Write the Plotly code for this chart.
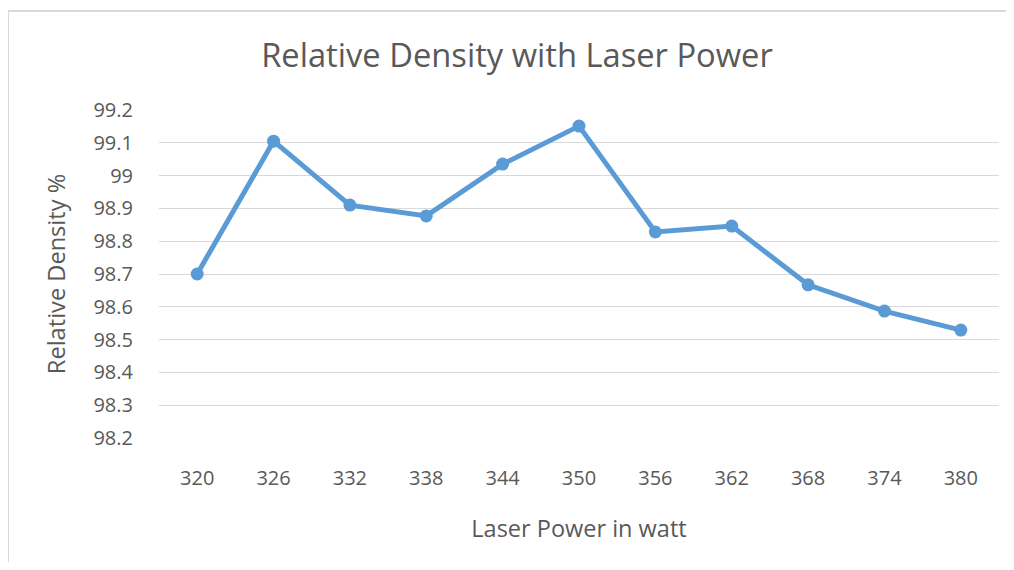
import plotly.graph_objects as go

laser_power = ["320", "326", "332", "338", "344", "350", "356", "362", "368", "374", "380"]
relative_density = [98.70, 99.105, 98.91, 98.877, 99.035, 99.151, 98.828, 98.846, 98.667, 98.587, 98.529]
y_ticks = [98.2, 98.3, 98.4, 98.5, 98.6, 98.7, 98.8, 98.9, 99.0, 99.1, 99.2]
y_tick_text = ["98.2", "98.3", "98.4", "98.5", "98.6", "98.7", "98.8", "98.9", "99", "99.1", "99.2"]

FONT = "Open Sans"
TXT = "#595959"

# page has an 8px body margin; figure is sized/offset to compensate
W, H = 998, 554
L, T, R, B = 151, 102, 7, 124
PW, PH = W - L - R, H - T - B

fig = go.Figure()
fig.add_trace(go.Scatter(
    x=laser_power, y=relative_density, mode="lines+markers",
    line=dict(color="#5B9BD5", width=5),
    marker=dict(color="#5B9BD5", size=13),
    showlegend=False,
))

fig.update_layout(
    width=W, height=H,
    margin=dict(l=L, r=R, t=T, b=B, autoexpand=False),
    paper_bgcolor="white", plot_bgcolor="white",
    font=dict(family=FONT, color=TXT),
    title=dict(text="Relative Density with Laser Power", x=509 / W, xanchor="center",
               y=1 - 48 / H, yanchor="middle",
               font=dict(family=FONT, size=32.7, color=TXT)),
    xaxis=dict(type="category", range=[-0.5, len(laser_power) - 0.5],
               showgrid=False, showline=False, zeroline=False,
               ticks="", tickfont=dict(size=20, color=TXT), automargin=False,
               ticklabelstandoff=26,
               title=dict(text="Laser Power in watt", font=dict(size=23.5, color=TXT), standoff=30)),
    yaxis=dict(range=[98.2, 99.2], tickvals=y_ticks, ticktext=y_tick_text,
               showgrid=True, gridcolor="#D9D9D9", gridwidth=1.3, zeroline=False,
               showline=False, ticks="", ticklabelstandoff=25, automargin=False,
               tickfont=dict(size=20, color=TXT),
               title=dict(text="Relative Density %", font=dict(size=23.6, color=TXT), standoff=21)),
    shapes=[
        dict(type="line", xref="paper", yref="paper",
             x0=(0 - L) / PW, x1=(0 - L) / PW, y0=-1.0, y1=(T + PH - 3) / PH,
             line=dict(color="#D9D9D9", width=2)),
        dict(type="line", xref="paper", yref="paper",
             x0=(0 - L) / PW, x1=(1030 - L) / PW,
             y0=(T + PH - 3) / PH, y1=(T + PH - 3) / PH,
             line=dict(color="#D9D9D9", width=2)),
    ],
)

fig.write_html("out.html")
